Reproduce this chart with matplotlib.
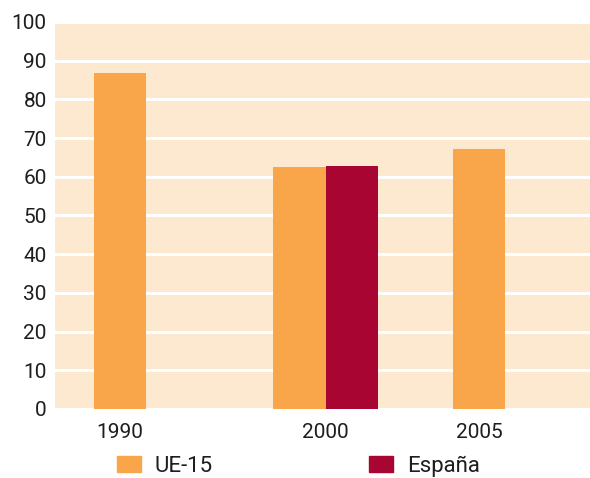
import numpy as np
import matplotlib
matplotlib.use('Agg')
import matplotlib.pyplot as plt
from matplotlib.patches import Patch

# data
years = ['1990', '2000', '2005']
ue15 = [86.8, 62.5, 67.2]
espana = [np.nan, 62.8, np.nan]
yticks = list(range(0, 101, 10))

C_UE = '#F9A64A'
C_ES = '#A80532'
BG = '#FDE9CF'
TXT = '#1e1e1e'

plt.rcParams['font.family'] = ['Roboto', 'DejaVu Sans']

fig = plt.figure(figsize=(5.9, 4.78), dpi=100)
ax = fig.add_axes([0.0932, 0.1444, 0.9068, 0.8096])
ax.set_facecolor(BG)

w = 0.29
x = np.arange(len(years))
ax.bar(x + w / 2, ue15, width=w, color=C_UE, zorder=3)
ax.bar(x + 1.5 * w, espana, width=w, color=C_ES, zorder=3)

# tick under the centre of the bars actually drawn
tick_pos = []
for i in range(len(years)):
    if np.isnan(espana[i]):
        tick_pos.append(x[i] + w / 2)
    else:
        tick_pos.append(x[i] + w)
ax.set_xticks(tick_pos)
ax.set_xticklabels(years)
ax.set_yticks(yticks)
ax.set_xlim(-0.217, 2.763)
ax.set_ylim(0, 100)

ax.yaxis.grid(True, color='white', linewidth=2.2, zorder=1)
ax.set_axisbelow(True)
for s in ax.spines.values():
    s.set_visible(False)
ax.tick_params(length=0, labelsize=15, colors=TXT)
ax.tick_params(axis='y', pad=6)
ax.tick_params(axis='x', pad=10)

handles = [Patch(color=C_UE, label='UE-15'), Patch(color=C_ES, label='España')]
fig.legend(handles=handles, ncol=2, frameon=False, fontsize=16,
           loc='upper left', bbox_to_anchor=(117 / 590, 1 - 455.5 / 478),
           borderpad=0, borderaxespad=0, handlelength=1.08, handleheight=0.72,
           handletextpad=0.63, columnspacing=7.0, labelcolor=TXT)

fig.savefig('out.png', dpi=100)
